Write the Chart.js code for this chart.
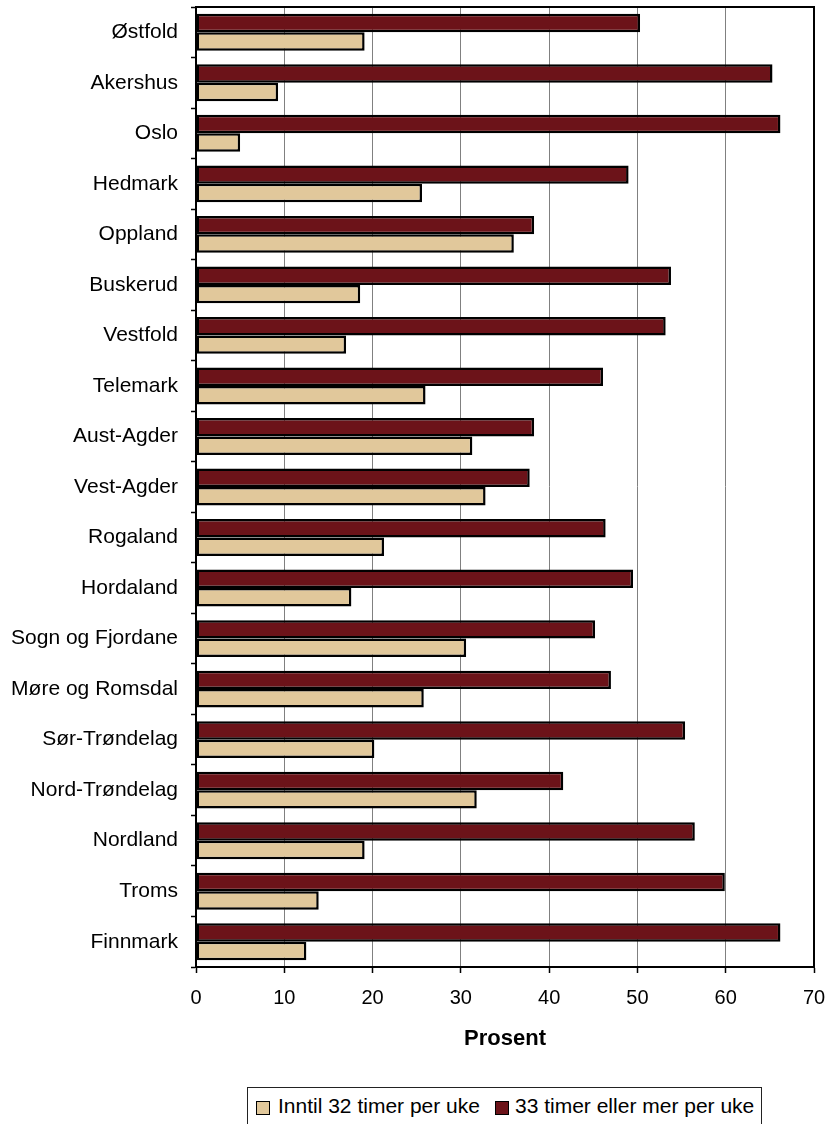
<!DOCTYPE html>
<html lang="no">
<head>
<meta charset="utf-8">
<title>Arbeidstid per fylke</title>
<script src="https://cdn.jsdelivr.net/npm/chart.js@4/dist/chart.umd.min.js"></script>
<style>
  html, body { margin: 0; padding: 0; background: #fff; }
  #wrap { position: relative; width: 827px; height: 1124px; overflow: hidden; }
  #c { position: absolute; left: 0; top: 0; }
  #legend {
    position: absolute; left: 247px; top: 1087px; width: 515px; height: 60px;
    border: 1px solid #222; box-sizing: border-box; background: #fff;
    font-family: "Liberation Sans", Arial, sans-serif; font-size: 21px; color: #000;
  }
  #legend .sw { position: absolute; top: 13px; width: 12px; height: 12px; border: 1px solid #000; }
  #legend .tx { position: absolute; top: 6px; white-space: nowrap; line-height: 24px; }
</style>
</head>
<body>
<div id="wrap">
  <canvas id="c" width="827" height="1124"></canvas>
  <div id="legend"></div>
</div>
<script>
// Fylker, ovenfra og ned
const fylker = [
  'Østfold', 'Akershus', 'Oslo', 'Hedmark', 'Oppland', 'Buskerud', 'Vestfold',
  'Telemark', 'Aust-Agder', 'Vest-Agder', 'Rogaland', 'Hordaland',
  'Sogn og Fjordane', 'Møre og Romsdal', 'Sør-Trøndelag', 'Nord-Trøndelag',
  'Nordland', 'Troms', 'Finnmark'
];

// Andel (prosent) som jobber 33 timer eller mer per uke
const heltid = [
  50.3, 65.3, 66.2, 49.0, 38.3, 53.8, 53.2, 46.1, 38.3, 37.8,
  46.4, 49.5, 45.2, 47.0, 55.4, 41.6, 56.5, 59.9, 66.2
];

// Andel (prosent) som jobber inntil 32 timer per uke
const deltid = [
  19.1, 9.3, 5.0, 25.6, 36.0, 18.6, 17.0, 26.0, 31.3, 32.8,
  21.3, 17.6, 30.6, 25.8, 20.2, 31.8, 19.1, 13.9, 12.5
];

const xTicks = [0, 10, 20, 30, 40, 50, 60, 70];

const serieNavn = ['Inntil 32 timer per uke', '33 timer eller mer per uke'];
const farger = ['#E1C89B', '#6C1319'];

const FONT = '"Liberation Sans", Arial, sans-serif';

// Akseetikettene skal ikke skyve plottområdet innover
function noLabelPadding(scale) {
  scale.paddingLeft = 0;
  scale.paddingRight = 0;
  scale.paddingTop = 0;
  scale.paddingBottom = 0;
}

// Svart ramme rundt plottområdet
const plotFrame = {
  id: 'plotFrame',
  afterDraw(chart) {
    const { ctx, chartArea: a } = chart;
    ctx.save();
    ctx.strokeStyle = '#000';
    ctx.lineWidth = 2;
    ctx.strokeRect(a.left, a.top, a.right - a.left, a.bottom - a.top);
    ctx.restore();
  }
};

new Chart(document.getElementById('c'), {
  type: 'bar',
  data: {
    labels: fylker,
    datasets: [
      {
        label: serieNavn[1],
        data: heltid,
        backgroundColor: farger[1],
        borderColor: '#000',
        borderWidth: 2.5,
        borderSkipped: false
      },
      {
        label: serieNavn[0],
        data: deltid,
        backgroundColor: farger[0],
        borderColor: '#000',
        borderWidth: 2.5,
        borderSkipped: false
      }
    ]
  },
  options: {
    indexAxis: 'y',
    responsive: false,
    animation: false,
    devicePixelRatio: 1,
    categoryPercentage: 0.73,
    barPercentage: 1.0,
    layout: { padding: { left: 0, right: 13, top: 7, bottom: 72 } },
    plugins: {
      legend: { display: false },
      tooltip: { enabled: false }
    },
    scales: {
      x: {
        type: 'linear',
        min: 0,
        max: 70,
        afterBuildTicks(scale) {
          scale.ticks = xTicks.map(v => ({ value: v }));
        },
        afterFit(scale) {
          scale.height = 85;
          noLabelPadding(scale);
        },
        grid: {
          color: '#808080',
          lineWidth: 1,
          tickColor: '#000',
          tickLength: 6,
          tickWidth: 1.5
        },
        border: { color: '#000', width: 2 },
        ticks: {
          color: '#000',
          font: { family: FONT, size: 20 },
          padding: 13,
          maxRotation: 0
        },
        title: {
          display: true,
          text: 'Prosent',
          color: '#000',
          font: { family: FONT, size: 22, weight: 'bold' },
          padding: { top: 0, bottom: 0 }
        }
      },
      y: {
        type: 'category',
        offset: true,
        afterFit(scale) {
          scale.width = 196;
          noLabelPadding(scale);
        },
        grid: {
          offset: true,
          drawOnChartArea: false,
          tickColor: '#000',
          tickLength: 5,
          tickWidth: 1.5
        },
        border: { color: '#000', width: 2 },
        ticks: {
          color: '#000',
          font: { family: FONT, size: 21 },
          padding: 13,
          autoSkip: false
        }
      }
    }
  },
  plugins: [plotFrame]
});

// Forklaring under diagrammet
const legend = document.getElementById('legend');
const legendPos = [
  { sw: 8, tx: 30 },
  { sw: 247, tx: 267 }
];
serieNavn.forEach((navn, i) => {
  const sw = document.createElement('span');
  sw.className = 'sw';
  sw.style.left = legendPos[i].sw + 'px';
  sw.style.background = farger[i];
  const tx = document.createElement('span');
  tx.className = 'tx';
  tx.style.left = legendPos[i].tx + 'px';
  tx.textContent = navn;
  legend.appendChild(sw);
  legend.appendChild(tx);
});
</script>
</body>
</html>
